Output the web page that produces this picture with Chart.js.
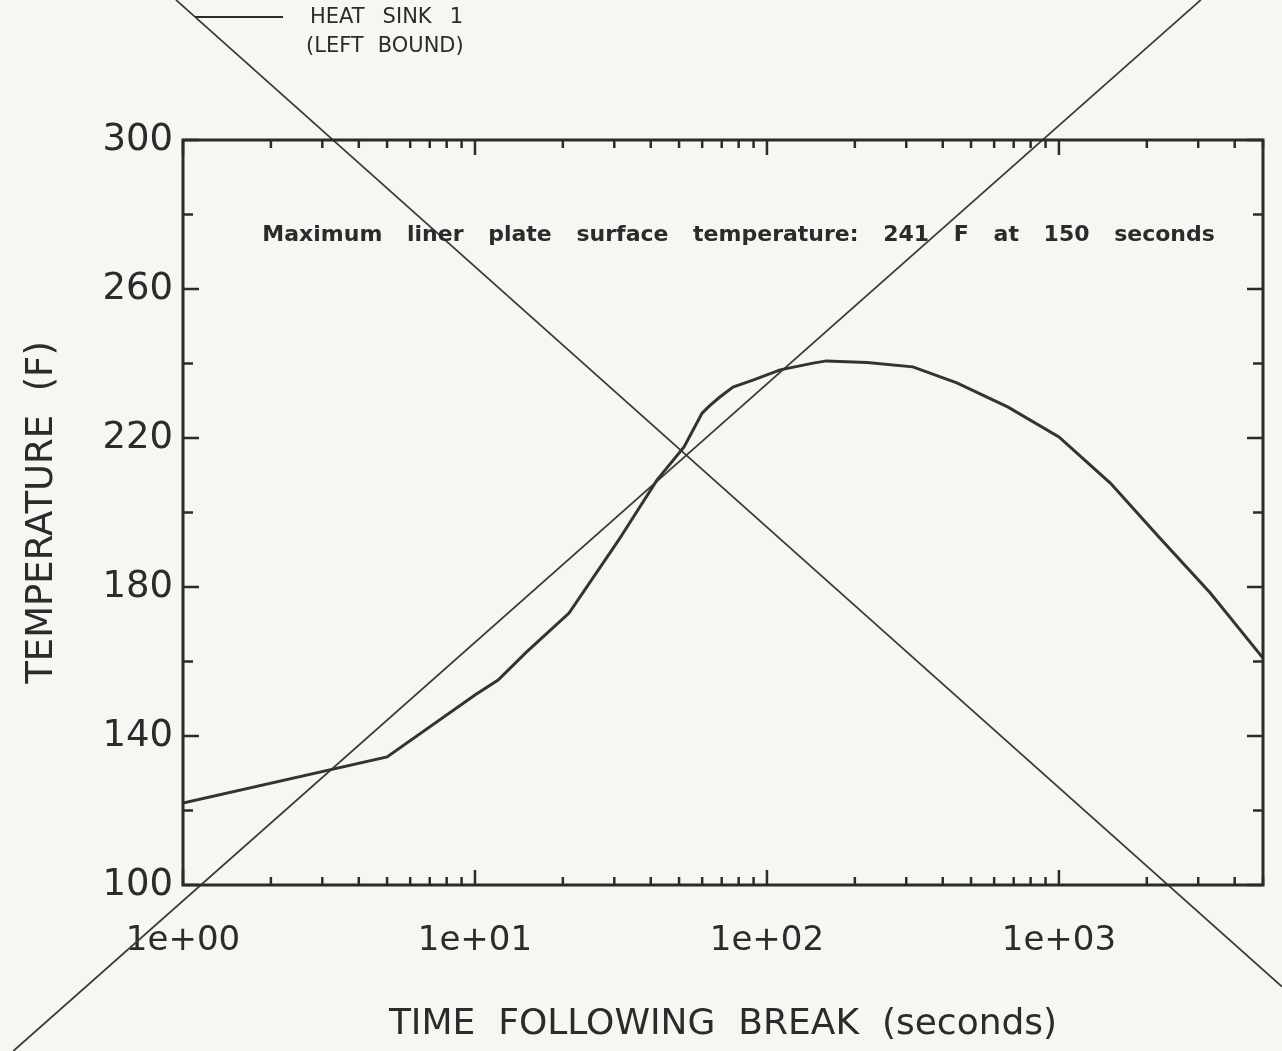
<!DOCTYPE html>
<html>
<head>
    <title>Heat sink 1 - liner plate temperature</title>
    <script src="https://cdn.jsdelivr.net/npm/chart.js@4.4.0/dist/chart.umd.min.js"></script>
    <style>
        html, body { margin: 0; padding: 0; background: #f6f6f3; }
        #wrap { width: 1282px; height: 1051px; }
    </style>
</head>
<body>
<div id="wrap"><canvas id="tempChart" width="1282" height="1051"></canvas></div>

<script>
    // time after break (s) and liner plate temperature (F)
    const timeSeconds = [1, 5, 10, 12, 15, 21, 31, 42, 52, 60, 64, 69, 76.5, 90, 111, 144, 160, 220, 316, 447, 670, 1000, 1500, 2200, 3300, 5000];
    const tempF = [122, 134.4, 151, 155, 162.5, 173, 192.5, 208.7, 217.6, 226.7, 228.8, 231, 233.7, 235.6, 238.3, 240.1, 240.7, 240.3, 239.1, 234.8, 228.3, 220.3, 207.9, 193.4, 178.4, 160.9];

    const xTickValues = [1, 10, 100, 1000];
    const xTickLabels = ["1e+00", "1e+01", "1e+02", "1e+03"];
    const yTickValues = [100, 140, 180, 220, 260, 300];

    const legendLines = ["HEAT SINK 1", "(LEFT BOUND)"];
    const noteText = "Maximum liner plate surface temperature: 241 F at 150 seconds";
    // where the note sits, in axis units (start time, end time, temperature)
    const noteSpan = [1.87, 3420];
    const noteTemp = 274.5;

    // the big X struck across the scanned page, in axis units
    const strikeDownX = [0.946, 5804];
    const strikeDownY = [337.6, 72.75];
    const strikeUpX = [0.2624, 3062];
    const strikeUpY = [55.44, 337.6];

    const ink = "#2b2b2b";

    function toPoints(xs, ys) {
        return xs.map(function (x, i) { return { x: x, y: ys[i] }; });
    }

    //draws words with a fixed gap between them
    function spacedText(ctx, words, x, y, gap) {
        for (var i = 0; i < words.length; i++) {
            ctx.fillText(words[i], x, y);
            x += ctx.measureText(words[i]).width + gap;
        }
    }

    //frame, inward tick marks, note and legend
    const decorations = {
        id: "decorations",
        afterDatasetsDraw: function (chart) {
            const ctx = chart.ctx;
            const a = chart.chartArea;
            const xs = chart.scales.x;
            const ys = chart.scales.y;
            ctx.save();
            ctx.strokeStyle = ink;
            ctx.lineWidth = 3;
            ctx.strokeRect(a.left, a.top, a.right - a.left, a.bottom - a.top);

            ctx.lineWidth = 2.5;
            ctx.beginPath();
            for (var d = 1; d <= 1000; d *= 10) {
                for (var m = 1; m <= 9; m++) {
                    var v = m * d;
                    if (v > xs.max) break;
                    var px = xs.getPixelForValue(v);
                    var len = m === 1 ? 15 : 8;
                    ctx.moveTo(px, a.bottom); ctx.lineTo(px, a.bottom - len);
                    ctx.moveTo(px, a.top); ctx.lineTo(px, a.top + len);
                }
            }
            for (var t = ys.min; t <= ys.max; t += 20) {
                var py = ys.getPixelForValue(t);
                var l = (t - ys.min) % 40 === 0 ? 16 : 10;
                ctx.moveTo(a.left, py); ctx.lineTo(a.left + l, py);
                ctx.moveTo(a.right, py); ctx.lineTo(a.right - l, py);
            }
            ctx.stroke();

            // note inside the plot, stretched over its span
            ctx.fillStyle = ink;
            ctx.font = "bold 22px 'DejaVu Sans', sans-serif";
            ctx.textBaseline = "middle";
            var words = noteText.split(" ");
            var x0 = xs.getPixelForValue(noteSpan[0]);
            var x1 = xs.getPixelForValue(noteSpan[1]);
            var used = 0;
            words.forEach(function (w) { used += ctx.measureText(w).width; });
            spacedText(ctx, words, x0, ys.getPixelForValue(noteTemp), (x1 - x0 - used) / (words.length - 1));

            // legend in the top left corner
            ctx.lineWidth = 2;
            ctx.beginPath();
            ctx.moveTo(195, 17); ctx.lineTo(283, 17);
            ctx.stroke();
            ctx.font = "21px 'DejaVu Sans', sans-serif";
            spacedText(ctx, legendLines[0].split(" "), 310, 18, 18);
            spacedText(ctx, legendLines[1].split(" "), 306, 47, 14);
            ctx.restore();
        }
    };

    const config = {
        type: "line",
        data: {
            datasets: [{
                label: legendLines.join(" "),
                data: toPoints(timeSeconds, tempF),
                borderColor: "#333333",
                borderWidth: 3,
                pointRadius: 0,
                tension: 0
            }, {
                label: "strike down",
                data: toPoints(strikeDownX, strikeDownY),
                borderColor: "#3a3a3a",
                borderWidth: 1.8,
                pointRadius: 0,
                clip: false
            }, {
                label: "strike up",
                data: toPoints(strikeUpX, strikeUpY),
                borderColor: "#3a3a3a",
                borderWidth: 1.8,
                pointRadius: 0,
                clip: false
            }]
        },
        options: {
            responsive: false,
            animation: false,
            devicePixelRatio: 1,
            layout: { padding: { left: 0, top: 140, right: 19, bottom: 0 } },
            plugins: { legend: { display: false }, tooltip: { enabled: false } },
            scales: {
                x: {
                    type: "logarithmic",
                    min: 1,
                    max: 5000,
                    afterBuildTicks: function (s) { s.ticks = xTickValues.map(function (v) { return { value: v }; }); },
                    afterFit: function (s) { s.height = 166; },
                    grid: { display: false },
                    border: { display: false },
                    ticks: {
                        autoSkip: false,
                        maxRotation: 0,
                        padding: 28,
                        color: ink,
                        font: { family: "'DejaVu Sans', sans-serif", size: 34 },
                        callback: function (v, i) { return xTickLabels[i]; }
                    },
                    title: {
                        display: true,
                        text: "TIME  FOLLOWING  BREAK  (seconds)",
                        color: ink,
                        font: { family: "'DejaVu Sans', sans-serif", size: 36 },
                        padding: { top: 0, bottom: 5 }
                    }
                },
                y: {
                    min: 100,
                    max: 300,
                    afterBuildTicks: function (s) { s.ticks = yTickValues.map(function (v) { return { value: v }; }); },
                    afterFit: function (s) { s.width = 183; },
                    grid: { display: false },
                    border: { display: false },
                    ticks: {
                        padding: 2,
                        color: ink,
                        font: { family: "'DejaVu Sans', sans-serif", size: 37 }
                    },
                    title: {
                        display: true,
                        text: "TEMPERATURE  (F)",
                        color: ink,
                        font: { family: "'DejaVu Sans', sans-serif", size: 37 },
                        padding: { top: 20, bottom: 0 }
                    }
                }
            }
        },
        plugins: [decorations]
    };

    new Chart(document.getElementById("tempChart"), config);
</script>
</body>
</html>
